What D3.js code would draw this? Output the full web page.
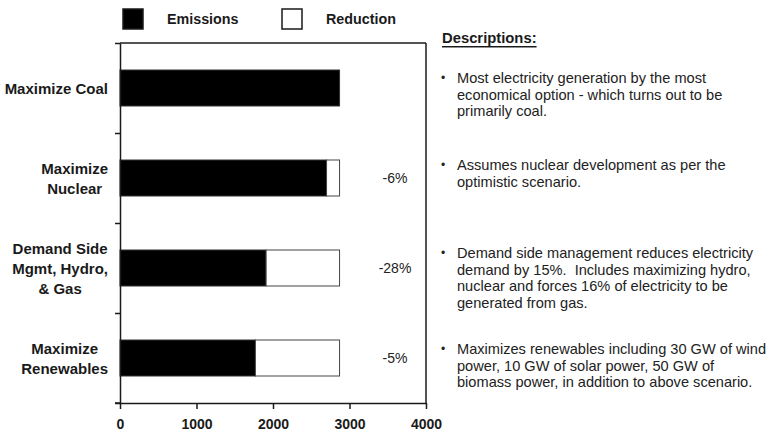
<!DOCTYPE html>
<html><head><meta charset="utf-8">
<script src="https://cdn.jsdelivr.net/npm/d3@7"></script>
<style>
body{margin:0;background:#fff;}
svg{display:block;font-family:"Liberation Sans",Arial,sans-serif;}
</style></head>
<body><svg id="c" width="776" height="434"></svg>
<script>
const categories = [["Maximize Coal"], ["Maximize", "Nuclear"], ["Demand Side", "Mgmt, Hydro,", "& Gas"], ["Maximize", "Renewables"]];
const emissions = [2870, 2700, 1910, 1770];
const reductions = [0, 170, 960, 1100];
const pctLabels = ["", "-6%", "-28%", "-5%"];
const xTicks = [0, 1000, 2000, 3000, 4000];
const legendLabels = ["Emissions", "Reduction"];
const descTitle = "Descriptions:";
const descriptions = [
  ["Most electricity generation by the most", "economical option - which turns out to be", "primarily coal."],
  ["Assumes nuclear development as per the", "optimistic scenario."],
  ["Demand side management reduces electricity", "demand by 15%.  Includes maximizing hydro,", "nuclear and forces 16% of electricity to be", "generated from gas."],
  ["Maximizes renewables including 30 GW of wind", "power, 10 GW of solar power, 50 GW of", "biomass power, in addition to above scenario."]
];

const svg = d3.select("#c");
const L = 120, R = 426, T = 43, B = 403;
const ids = categories.map((c, i) => i);
const x = d3.scaleLinear().domain([0, 4000]).range([L, R]);
const y = d3.scaleBand().domain(ids).range([T, B]).paddingInner(0.6).paddingOuter(0.3);
const yEdge = d3.scaleLinear().domain([0, categories.length]).range([T, B]);
const ink = "#1a1a1a";

// bars
const g = svg.append("g");
g.selectAll("rect.em").data(ids).join("rect")
  .attr("x", x(0)).attr("y", i => y(i))
  .attr("width", i => x(emissions[i]) - x(0)).attr("height", y.bandwidth())
  .attr("fill", "#000").attr("stroke", "#333").attr("stroke-width", 1);
g.selectAll("rect.rd").data(ids.filter(i => reductions[i] > 0)).join("rect")
  .attr("x", i => x(emissions[i])).attr("y", i => y(i))
  .attr("width", i => x(emissions[i] + reductions[i]) - x(emissions[i])).attr("height", y.bandwidth())
  .attr("fill", "#fff").attr("stroke", "#444").attr("stroke-width", 1);

// frame (top, right)
svg.append("line").attr("x1", L).attr("x2", R).attr("y1", T).attr("y2", T).attr("stroke", ink).attr("stroke-width", 1.5);
svg.append("line").attr("x1", R).attr("x2", R).attr("y1", T).attr("y2", B).attr("stroke", ink).attr("stroke-width", 1.5);

// axes
const xa = svg.append("g").attr("transform", `translate(0,${B})`)
  .call(d3.axisBottom(x).tickValues(xTicks).tickSize(6).tickSizeOuter(0).tickPadding(10).tickFormat(d3.format("d")));
xa.selectAll("text").attr("font-size", 14).attr("font-weight", "bold").attr("fill", ink).attr("font-family", "Liberation Sans, Arial, sans-serif");
const ya = svg.append("g").attr("transform", `translate(${L},0)`)
  .call(d3.axisLeft(yEdge).tickValues(d3.range(categories.length + 1)).tickSize(5).tickSizeOuter(0).tickFormat(""));
[xa, ya].forEach(a => { a.select(".domain").attr("stroke", ink).attr("stroke-width", 1.5); a.selectAll(".tick line").attr("stroke", ink).attr("stroke-width", 1.5); });
svg.append("line").attr("x1", L - 5).attr("x2", L).attr("y1", B).attr("y2", B).attr("stroke", ink).attr("stroke-width", 1.5);

// category labels: right-aligned block, centered lines
const lineH = 20;
ids.forEach(i => {
  const lines = categories[i];
  const cy = y(i) + y.bandwidth() / 2;
  const grp = svg.append("g");
  const texts = lines.map((s, k) => grp.append("text").text(s)
    .attr("font-size", 15).attr("font-weight", "bold").attr("fill", ink)
    .attr("dominant-baseline", "central").attr("text-anchor", "middle")
    .attr("y", cy + (k - (lines.length - 1) / 2) * lineH));
  const w = d3.max(texts, t => t.node().getComputedTextLength());
  const right = 108;
  texts.forEach(t => t.attr("x", right - w / 2));
});

// percentage labels
svg.selectAll("text.pct").data(ids).join("text")
  .text(i => pctLabels[i])
  .attr("x", 395).attr("y", i => y(i) + y.bandwidth() / 2)
  .attr("text-anchor", "middle").attr("dominant-baseline", "central")
  .attr("font-size", 14).attr("fill", "#222");

// legend
const leg = [{ x: 123, fill: "#000" }, { x: 282, fill: "#fff" }];
leg.forEach((l, k) => {
  svg.append("rect").attr("x", l.x).attr("y", 9).attr("width", 20).attr("height", 20)
    .attr("fill", l.fill).attr("stroke", ink).attr("stroke-width", 1.5);
  svg.append("text").text(legendLabels[k]).attr("x", l.x + 44).attr("y", 19)
    .attr("dominant-baseline", "central").attr("font-size", 14.3).attr("font-weight", "bold").attr("fill", ink);
});

// descriptions
svg.append("text").text(descTitle).attr("x", 442).attr("y", 38)
  .attr("dominant-baseline", "central").attr("font-size", 14.8).attr("font-weight", "bold")
  .attr("text-decoration", "underline").attr("fill", ink);
const descTop = [78, 165, 253, 349];
const dLH = 16.5;
descriptions.forEach((lines, i) => {
  svg.append("text").text("•").attr("x", 441).attr("y", descTop[i])
    .attr("dominant-baseline", "central").attr("font-size", 12).attr("fill", "#222");
  lines.forEach((s, k) => {
    svg.append("text").text(s).attr("x", 457).attr("y", descTop[i] + k * dLH)
      .attr("dominant-baseline", "central").attr("font-size", 14.6).attr("fill", "#222")
      .attr("xml:space", "preserve").style("white-space", "pre");
  });
});
</script></body></html>
